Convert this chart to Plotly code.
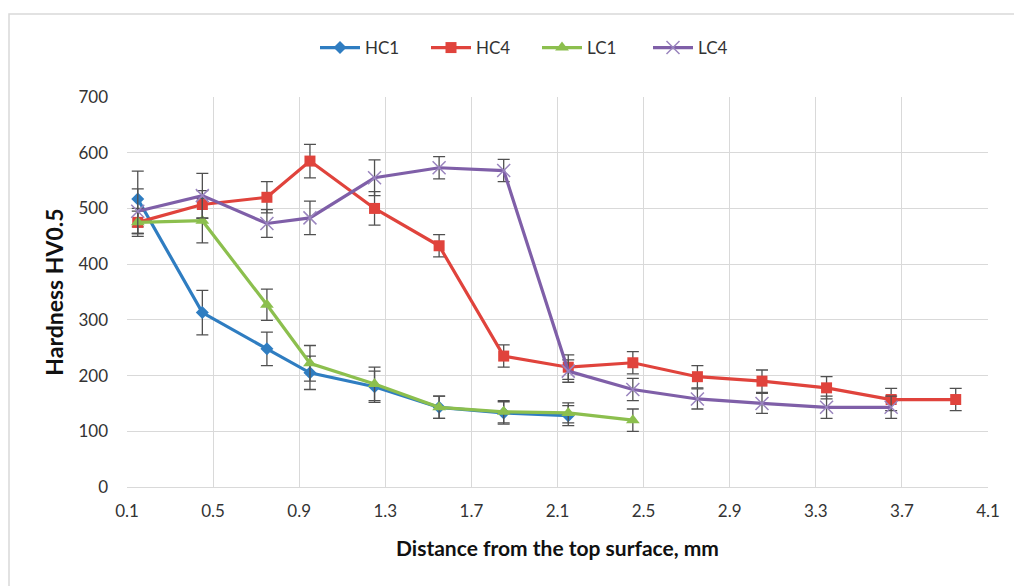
import plotly.graph_objects as go

x_all = [0.15, 0.45, 0.75, 0.95, 1.25, 1.55, 1.85, 2.15, 2.45, 2.75, 3.05, 3.35, 3.65, 3.95]

hc1_y = [517, 313, 248, 205, 180, 143, 133, 128]
hc1_err = [50, 40, 30, 30, 28, 20, 20, 18]

hc4_y = [475, 507, 520, 585, 500, 433, 235, 215, 223, 198, 190, 178, 157, 157]
hc4_err = [20, 25, 28, 30, 30, 20, 20, 22, 20, 20, 20, 20, 20, 20]

lc1_y = [475, 478, 327, 222, 185, 143, 135, 133, 120]
lc1_err = [25, 40, 28, 32, 30, 20, 20, 18, 20]

lc4_y = [495, 523, 473, 483, 555, 573, 568, 208, 175, 158, 150, 143, 143]
lc4_err = [40, 40, 25, 30, 32, 20, 20, 20, 20, 18, 18, 20, 20]

names = ["HC1", "HC4", "LC1", "LC4"]
colors = ["#2F7DC1", "#E0433C", "#8CBF4E", "#7F5FA8"]
symbols = ["diamond", "square", "triangle-up", "x-thin"]
sizes = [10, 11, 12, 13]
ys = [hc1_y, hc4_y, lc1_y, lc4_y]
errs = [hc1_err, hc4_err, lc1_err, lc4_err]

fig = go.Figure()
for n, c, s, sz, y, e in zip(names, colors, symbols, sizes, ys, errs):
    marker = dict(symbol=s, size=sz, color=c)
    if s == "x-thin":
        marker["line"] = dict(color="#9A85BE", width=1.5)
    fig.add_trace(go.Scatter(
        x=x_all[:len(y)], y=y, name=n, mode="lines+markers",
        line=dict(color=c, width=3.2),
        marker=marker,
        error_y=dict(type="data", array=e, visible=True, color="#505050",
                     thickness=1.3, width=6),
    ))

font = "Lato, 'Open Sans', sans-serif"
fig.update_layout(
    width=1014, height=586,
    margin=dict(l=127, r=26, t=97, b=99),
    paper_bgcolor="white", plot_bgcolor="white",
    font=dict(family=font, size=17, color="#333333"),
    legend=dict(orientation="h", x=(537 - 127) / 861, xanchor="center", y=1.1256,
                yanchor="middle", font=dict(size=17, color="#333333"),
                entrywidth=56, entrywidthmode="pixels", itemwidth=40),
    xaxis=dict(range=[0.1, 4.1], tick0=0.1, dtick=0.4, tickformat=".1f",
               showgrid=True, gridcolor="#D9D9D9", gridwidth=1,
               showline=True, linecolor="#D9D9D9", linewidth=1,
               zeroline=False, ticks="", ticklabelstandoff=9,
               tickfont=dict(size=17, color="#333333"),
               title=dict(text="<b>Distance from the top surface, mm</b>",
                          font=dict(size=21, color="#111111"), standoff=20)),
    yaxis=dict(range=[0, 700], dtick=100, showgrid=True, gridcolor="#D9D9D9",
               gridwidth=1, zeroline=False, showline=False, ticks="",
               ticklabelstandoff=18,
               tickfont=dict(size=17, color="#333333"),
               title=dict(text="<b>Hardness HV0.5</b>",
                          font=dict(size=23, color="#111111"), standoff=8)),
    shapes=[dict(type="rect", xref="paper", yref="paper",
                 x0=(9 - 127) / 861, x1=(1030 - 127) / 861,
                 y0=(487 - 600) / 390, y1=(487 - 14) / 390,
                 line=dict(color="#D9D9D9", width=1.5), layer="below")],
)

fig.write_html("out.html")
